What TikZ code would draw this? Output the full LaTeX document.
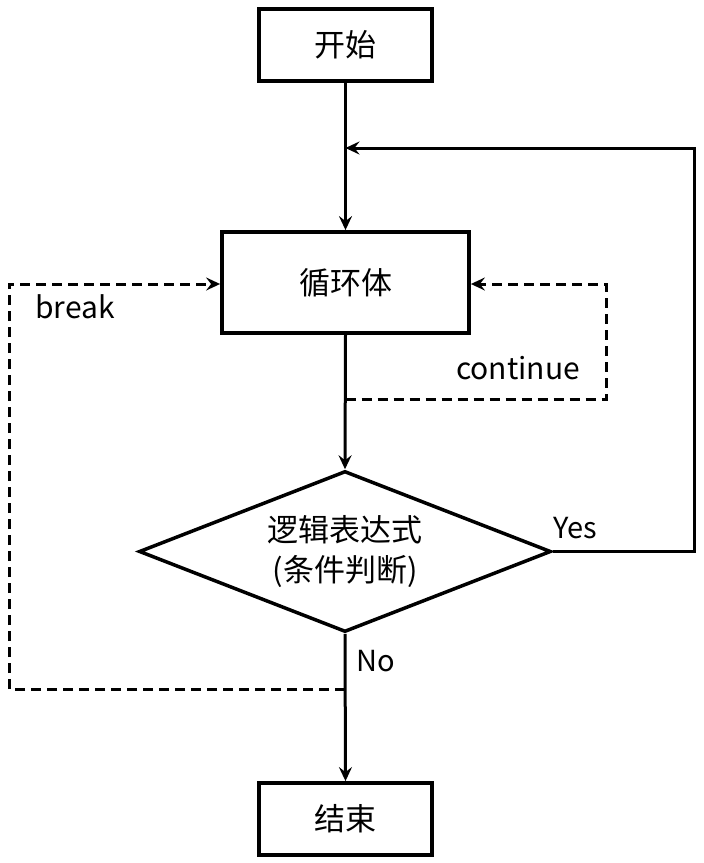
\documentclass[tikz,border=0pt]{standalone}
\usepackage{fontspec}
\setmainfont{Noto Sans CJK SC}
\usetikzlibrary{arrows.meta,shapes.geometric}
\begin{document}
\begin{tikzpicture}[x=1pt,y=-1pt,
  box/.style={draw,line width=3.8pt,inner sep=0pt,font=\fontsize{31}{36}\selectfont},
  flow/.style={line width=3pt,-{Stealth[length=14pt,width=13pt,inset=5pt]}},
  dflow/.style={line width=3pt,dash pattern=on 10pt off 6pt,-{Stealth[length=14pt,width=13pt,inset=5pt]}},
  lbl/.style={font=\fontsize{30}{34}\selectfont,inner sep=0pt},
  yn/.style={font=\fontsize{29}{34}\selectfont,inner sep=0pt}]
\useasboundingbox (0,0) rectangle (704,863);
\node[box,minimum width=173pt,minimum height=72pt] (start) at (345.5,45) {开始};
\node[box,minimum width=247pt,minimum height=101pt] (body) at (345.5,282.5) {循环体};
\node[box,shape=diamond,aspect=2.56,line width=3.5pt,minimum width=412pt,minimum height=161pt,align=center,font=\fontsize{31}{40}\selectfont] (cond) at (345,551.5) {逻辑表达式\\(条件判断)};
\node[box,minimum width=173pt,minimum height=72pt] (end) at (345.5,819) {结束};
\coordinate (yr) at (694,551.5);
\coordinate (yt) at (694,148);
\coordinate (ym) at (345.5,148);
\coordinate (c1) at (345.5,399);
\coordinate (c2) at (606,399);
\coordinate (c3) at (606,284);
\coordinate (b1) at (345,689);
\coordinate (b2) at (9,689);
\coordinate (b3) at (9,284);
\draw[flow] (start.south) -- (body.north);
\draw[flow] (body.south) -- (cond.north);
\draw[flow] (cond.south) -- (end.north);
\draw[flow] (cond.east) -- (yr) -- (yt) -- (ym);
\draw[dflow] (c1) -- (c2) -- (c3) -- (body.east |- c3);
\draw[dflow] (b1) -- (b2) -- (b3) -- (body.west |- b3);
\node[lbl] (lc) at (518,368) {continue};
\node[lbl] (lb) at (75,307) {break};
\node[yn] (ly) at (575,528) {Yes};
\node[yn] (ln) at (376,661) {No};
\end{tikzpicture}
\end{document}
